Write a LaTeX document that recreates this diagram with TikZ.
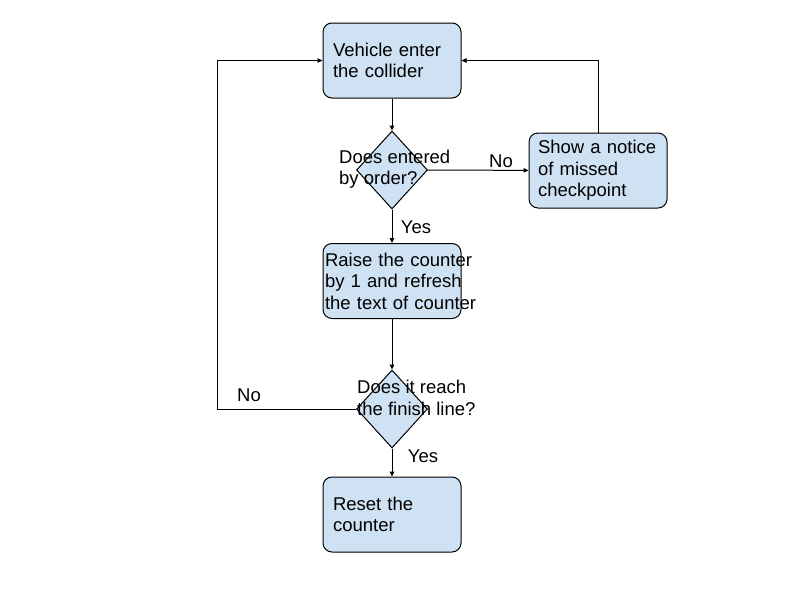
\documentclass[tikz,border=0pt]{standalone}
\usepackage{fontspec}
\setmainfont{Liberation Sans}
\usetikzlibrary{arrows.meta,shapes.geometric}
\definecolor{boxfill}{HTML}{CFE2F3}
\hyphenpenalty=10000
\tikzset{
  >={Triangle[length=5pt,width=4.5pt]},
  txt/.style={font=\fontsize{18.5}{21.5}\selectfont},
  box/.style={txt,draw=black,fill=boxfill,rounded corners=9pt,line width=1pt,minimum height=75pt,inner xsep=10pt,text width=118pt,align=left},
  dec/.style={diamond,draw=black,fill=boxfill,line width=1pt,inner sep=0pt,minimum width=71pt,minimum height=78pt},
  qtxt/.style={txt,inner sep=0pt,anchor=west,align=left},
  lab/.style={txt,inner sep=0pt},
  arr/.style={->,draw=black,line width=1pt},
}
\begin{document}
\begin{tikzpicture}[x=1pt,y=-1pt]
\useasboundingbox (0,0) rectangle (800,600);
\node[box] (enter) at (392,60.5) {Vehicle~enter\\the~collider};
\node[dec] (order) at (392,170) {};
\node[qtxt] (qorder) at ([xshift=-17pt,yshift=1pt]order.west) {Does entered\\by order?};
\node[box,inner xsep=2pt,text width=134pt] (raise) at (392,281) {Raise~the~counter\\by~1~and~refresh\\the~text~of~counter};
\node[dec] (finish) at (392,409) {};
\node[qtxt] (qfinish) at ([xshift=1pt,yshift=11pt]finish.west) {Does it reach\\the finish line?};
\node[box] (reset) at (392,514.5) {Reset~the\\counter};
\node[box,inner xsep=9pt,text width=120pt] (notice) at (598,170.5) {Show~a~notice\\of~missed\\checkpoint};
\coordinate (back) at (217,60.5);
\foreach \a/\b in {enter/order,order/raise,raise/finish,finish/reset}
  \draw[arr] (\a) -- (\b);
\draw[arr] (order) -- (notice);
\draw[arr] (notice.north) |- (enter.east);
\draw[arr] (finish.west) -| (back) -- (enter.west);
\node[lab] (yes1) at (416,227) {Yes};
\node[lab] (yes2) at (423,456) {Yes};
\node[lab] (no1) at (501,161) {No};
\node[lab] (no2) at (249,395) {No};
\end{tikzpicture}
\end{document}
